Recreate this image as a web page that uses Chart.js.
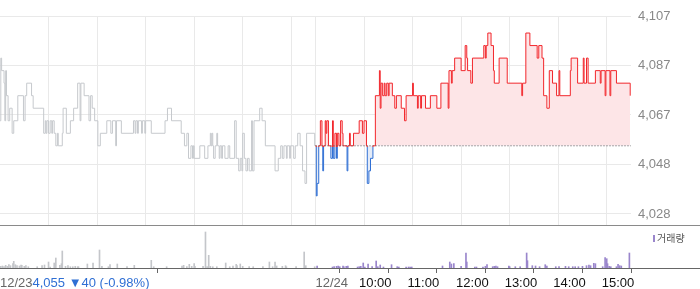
<!DOCTYPE html>
<html>
<head>
<meta charset="utf-8">
<script src="https://cdn.jsdelivr.net/npm/chart.js@4.4.1/dist/chart.umd.min.js"></script>
<style>
  body { margin: 0; background: #fff; }
  #wrap { position: relative; width: 700px; height: 289px; }
  canvas { position: absolute; left: 0; }
  #priceChart { top: 0; }
  #volumeChart { top: 226px; }
</style>
</head>
<body>
<div id="wrap">
  <canvas id="priceChart" width="700" height="226"></canvas>
  <canvas id="volumeChart" width="700" height="63"></canvas>
</div>
<script>
// minutes per trading session (09:00 - 15:30)
const sessionMinutes = 390;
const prevClose = 4055;
const changeText = '4,055 \u25BC40 (-0.98%)';

// 12/23 price changes (minutes after 09:00, price)
const prevTimes = [
    0, 1, 2, 5, 6, 7, 8, 10, 12, 15,
    17, 22, 29, 31, 33, 39, 41, 54, 56, 57,
    58, 60, 62, 64, 65, 67, 69, 71, 72, 77,
    78, 82, 87, 91, 96, 99, 100, 104, 110, 112,
    114, 117, 121, 124, 132, 137, 139, 143, 144, 150,
    165, 167, 168, 170, 171, 175, 176, 179, 180, 187,
    204, 207, 212, 224, 228, 231, 233, 236, 238, 239,
    240, 247, 253, 257, 260, 261, 262, 263, 264, 266,
    268, 269, 271, 272, 274, 275, 278, 282, 284, 290,
    292, 295, 297, 299, 300, 302, 304, 306, 308, 311,
    312, 314, 321, 324, 328, 340, 344, 347, 349, 351,
    354, 355, 358, 359, 363, 365, 368, 371, 374, 377,
    379, 389
];
const prevPrices = [
    4065, 4090, 4085, 4080, 4065, 4085, 4075, 4065, 4070, 4060,
    4065, 4075, 4065, 4075, 4080, 4075, 4070, 4060, 4065, 4060,
    4065, 4060, 4065, 4060, 4065, 4060, 4055, 4060, 4055, 4060,
    4070, 4060, 4065, 4070, 4080, 4065, 4080, 4075, 4065, 4075,
    4070, 4065, 4055, 4060, 4065, 4060, 4065, 4055, 4065, 4060,
    4065, 4060, 4065, 4060, 4065, 4060, 4065, 4060, 4065, 4060,
    4065, 4070, 4065, 4060, 4055, 4060, 4050, 4055, 4050, 4055,
    4050, 4055, 4050, 4055, 4060, 4055, 4060, 4055, 4050, 4055,
    4060, 4055, 4050, 4055, 4050, 4055, 4050, 4055, 4050, 4065,
    4050, 4045, 4050, 4045, 4060, 4050, 4045, 4050, 4045, 4065,
    4045, 4065, 4070, 4065, 4055, 4045, 4050, 4055, 4050, 4055,
    4050, 4055, 4050, 4055, 4050, 4055, 4060, 4055, 4045, 4040,
    4060, 4055
];

// 12/24 price changes
const todayTimes = [
    0, 1, 2, 4, 6, 8, 9, 10, 12, 13,
    14, 16, 19, 21, 22, 24, 26, 27, 29, 31,
    33, 34, 39, 40, 42, 43, 47, 54, 58, 60,
    63, 64, 66, 68, 71, 74, 79, 80, 81, 83,
    85, 86, 88, 90, 91, 95, 98, 100, 106, 110,
    112, 120, 121, 126, 127, 130, 131, 136, 142, 150,
    155, 164, 165, 168, 169, 172, 180, 185, 187, 188,
    192, 194, 208, 210, 211, 213, 217, 220, 221, 227,
    237, 255, 256, 260, 265, 274, 276, 280, 282, 286,
    289, 293, 298, 301, 302, 315, 316, 324, 331, 332,
    335, 337, 346, 352, 353, 358, 359, 364, 365, 372,
    389
];
const todayPrices = [
    4055, 4035, 4040, 4055, 4065, 4055, 4045, 4055, 4065, 4060,
    4065, 4055, 4050, 4065, 4050, 4060, 4050, 4060, 4055, 4065,
    4060, 4055, 4045, 4055, 4060, 4055, 4060, 4065, 4060, 4065,
    4055, 4040, 4045, 4050, 4055, 4075, 4085, 4070, 4080, 4075,
    4080, 4075, 4080, 4075, 4080, 4075, 4070, 4075, 4070, 4065,
    4075, 4080, 4075, 4070, 4075, 4070, 4075, 4070, 4075, 4070,
    4080, 4070, 4085, 4080, 4085, 4090, 4085, 4095, 4090, 4085,
    4080, 4090, 4095, 4090, 4095, 4100, 4095, 4085, 4080, 4090,
    4080, 4075, 4080, 4100, 4095, 4090, 4095, 4090, 4075, 4070,
    4085, 4080, 4075, 4085, 4075, 4085, 4090, 4080, 4090, 4080,
    4090, 4080, 4085, 4080, 4085, 4075, 4085, 4075, 4085, 4080,
    4075
];

// volume (hundreds of shares)
const prevVolTimes = [
    1, 3, 5, 7, 9, 11, 13, 16, 17, 19,
    21, 24, 26, 27, 30, 32, 35, 46, 52, 55,
    60, 62, 67, 69, 74, 76, 77, 81, 84, 87,
    90, 93, 96, 97, 108, 115, 123, 126, 134, 136,
    145, 157, 166, 187, 190, 206, 225, 227, 231, 234,
    237, 240, 241, 251, 254, 256, 258, 260, 263, 268,
    279, 284, 288, 292, 293, 297, 300, 308, 313, 325,
    333, 337, 340, 342, 349, 353, 354, 366, 376, 378,
    389
];
const prevVolumes = [
    17, 20, 13, 27, 17, 33, 23, 43, 67, 33,
    23, 20, 30, 27, 17, 23, 13, 13, 23, 30,
    60, 10, 50, 100, 27, 43, 170, 17, 23, 13,
    13, 17, 13, 13, 40, 50, 180, 17, 13, 33,
    40, 13, 27, 77, 13, 13, 20, 27, 13, 37,
    17, 43, 17, 17, 360, 13, 127, 17, 13, 13,
    50, 13, 20, 37, 23, 40, 17, 13, 13, 13,
    60, 13, 60, 20, 17, 23, 13, 13, 160, 23,
    13
];
const todayVolTimes = [
    2, 21, 23, 26, 28, 30, 34, 35, 38, 40,
    52, 54, 56, 59, 61, 65, 70, 75, 77, 80,
    84, 94, 101, 103, 112, 115, 117, 119, 157, 166,
    168, 171, 180, 186, 187, 197, 199, 207, 210, 212,
    219, 221, 223, 225, 239, 240, 247, 253, 261, 262,
    268, 272, 277, 284, 286, 297, 301, 309, 313, 318,
    321, 325, 330, 335, 338, 340, 344, 346, 355, 358,
    360, 361, 363, 365, 372, 374, 376, 378, 388
];
const todayVolumes = [
    20, 10, 13, 17, 20, 13, 20, 13, 17, 20,
    10, 13, 17, 50, 10, 40, 13, 70, 13, 30,
    10, 33, 13, 10, 10, 10, 10, 10, 20, 60,
    40, 43, 17, 150, 60, 10, 10, 10, 17, 33,
    13, 17, 20, 13, 20, 13, 13, 13, 150, 73,
    23, 20, 13, 33, 20, 13, 13, 17, 13, 13,
    13, 13, 17, 23, 30, 23, 47, 43, 13, 103,
    93, 43, 17, 13, 13, 37, 23, 20, 150
];

// axes
const yTickValues = [4027.8, 4047.55, 4067.3, 4087.05, 4106.8];
const yAxisMin = 4023.4;
const xGridMinutes = [60, 120, 180, 240, 300, 360, 390, 450, 510, 570, 630, 690, 750];
const xLabelMinutes = [0, 390, 450, 510, 570, 630, 690, 750];
const xLabels = ['12/23', '12/24', '10:00', '11:00', '12:00', '13:00', '14:00', '15:00'];

const fontFamily = '"Liberation Sans", Arial, sans-serif';
const upColor = '#f2262b';
const downColor = '#2f6fd4';
const gridColor = '#e9e9e9';

Chart.defaults.font.family = fontFamily;
Chart.defaults.font.size = 13;

function toPoints(times, values, offset) {
    return times.map((t, i) => ({ x: t + offset, y: values[i] }));
}

function splitColor(context) {
    const chart = context.chart;
    const area = chart.chartArea;
    if (!area) {
        return upColor;
    }
    const y = chart.scales.y.getPixelForValue(prevClose) + 1;
    const stop = Math.min(Math.max((y - area.top) / (area.bottom - area.top), 0), 1);
    const g = chart.ctx.createLinearGradient(0, area.top, 0, area.bottom);
    g.addColorStop(0, upColor);
    g.addColorStop(stop, upColor);
    g.addColorStop(stop, downColor);
    g.addColorStop(1, downColor);
    return g;
}

function fullWidthBorder(color) {
    return {
        id: 'fullWidthBorder',
        afterDraw(chart) {
            const { ctx, chartArea } = chart;
            const y = Math.round(chartArea.bottom) + 0.5;
            ctx.save();
            ctx.strokeStyle = color;
            ctx.lineWidth = 1;
            ctx.beginPath();
            ctx.moveTo(0, y);
            ctx.lineTo(chart.width, y);
            ctx.stroke();
            ctx.restore();
        }
    };
}

const volumeLabels = {
    id: 'volumeLabels',
    afterDraw(chart) {
        const { ctx, chartArea, scales } = chart;
        const y = chartArea.bottom + 15;
        ctx.save();
        ctx.font = '13px ' + fontFamily;
        ctx.textBaseline = 'middle';
        ctx.textAlign = 'left';
        xLabels.forEach((label, i) => {
            const isTime = label.indexOf(':') >= 0;
            const px = scales.x.getPixelForValue(xLabelMinutes[i]) + (isTime ? -5 : 0);
            ctx.fillStyle = isTime ? '#111' : '#666';
            ctx.fillText(label, px, y);
            if (i === 0) {
                ctx.fillStyle = downColor;
                ctx.fillText(changeText, px + ctx.measureText(label).width, y);
            }
        });

        // legend
        ctx.fillStyle = '#9a86cc';
        ctx.fillRect(653, 9, 2, 7);
        ctx.fillStyle = '#555';
        ctx.font = '10px "Noto Sans CJK KR", sans-serif';
        ctx.fillText('거래량', 657, 12.5);
        ctx.restore();
    }
};

new Chart(document.getElementById('priceChart'), {
    type: 'line',
    data: {
        datasets: [{
            data: [{ x: sessionMinutes, y: prevClose }, { x: sessionMinutes * 2, y: prevClose }],
            borderColor: '#555',
            borderWidth: 1,
            borderDash: [1, 2],
            pointRadius: 0,
            order: 0
        }, {
            data: toPoints(todayTimes, todayPrices, sessionMinutes),
            borderColor: splitColor,
            borderWidth: 1,
            stepped: true,
            pointRadius: 0,
            fill: {
                target: { value: prevClose },
                above: '#fde5e7',
                below: '#e4ebf7'
            },
            order: 1
        }, {
            data: toPoints(prevTimes, prevPrices, 0),
            borderColor: '#c6c9cd',
            borderWidth: 1,
            stepped: true,
            pointRadius: 0,
            order: 2
        }]
    },
    options: {
        responsive: false,
        animation: false,
        events: [],
        layout: { padding: { top: 16, bottom: 1, left: 0, right: 0 } },
        plugins: {
            legend: { display: false },
            tooltip: { enabled: false }
        },
        scales: {
            x: {
                type: 'linear',
                min: 0,
                max: sessionMinutes * 2,
                afterBuildTicks: scale => {
                    scale.ticks = xGridMinutes.map(v => ({ value: v }));
                },
                afterFit: scale => {
                    scale.height = 0;
                },
                ticks: { display: false },
                grid: { color: gridColor, drawTicks: false },
                border: { display: false }
            },
            y: {
                position: 'right',
                min: yAxisMin,
                max: yTickValues[yTickValues.length - 1],
                afterBuildTicks: scale => {
                    scale.ticks = yTickValues.map(v => ({ value: v }));
                },
                afterFit: scale => {
                    scale.width = 69;
                    scale.paddingTop = 0;
                    scale.paddingBottom = 0;
                },
                ticks: {
                    padding: 7,
                    color: '#888',
                    callback: v => Math.round(v).toLocaleString('en-US')
                },
                grid: { color: gridColor, drawTicks: false },
                border: { display: false }
            }
        }
    },
    plugins: [fullWidthBorder('#8a8a8a')]
});

new Chart(document.getElementById('volumeChart'), {
    type: 'bar',
    data: {
        datasets: [{
            data: toPoints(prevVolTimes, prevVolumes, 0),
            backgroundColor: '#c4c6ca',
            barThickness: 1,
            grouped: false
        }, {
            data: toPoints(todayVolTimes, todayVolumes, sessionMinutes),
            backgroundColor: '#9a86cc',
            barThickness: 1,
            grouped: false
        }]
    },
    options: {
        responsive: false,
        animation: false,
        events: [],
        layout: { padding: { top: 2, bottom: 0, left: 0, right: 69 } },
        plugins: {
            legend: { display: false },
            tooltip: { enabled: false }
        },
        scales: {
            x: {
                type: 'linear',
                offset: false,
                min: 0,
                max: sessionMinutes * 2,
                afterBuildTicks: scale => {
                    scale.ticks = xLabelMinutes.map(v => ({ value: v }));
                },
                afterFit: scale => {
                    scale.height = 21;
                },
                ticks: { display: false },
                grid: { drawOnChartArea: false, drawTicks: true, tickLength: 5, color: '#666' },
                border: { display: false }
            },
            y: {
                display: false,
                min: 0,
                max: 400
            }
        }
    },
    plugins: [fullWidthBorder('#666'), volumeLabels]
});
</script>
</body>
</html>
